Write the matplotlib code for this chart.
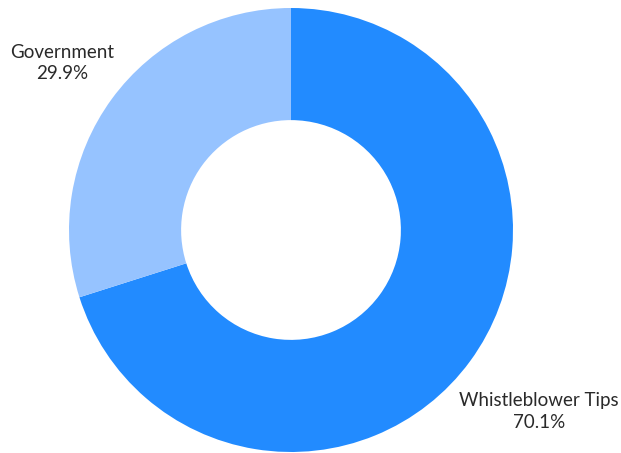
import numpy as np
import matplotlib
matplotlib.use("Agg")
import matplotlib.pyplot as plt

categories = ["Whistleblower Tips", "Government"]
values = [70.1, 29.9]
colors = ["#228BFF", "#96C3FF"]

plt.rcParams['font.family'] = ['Lato', 'DejaVu Sans']

fig = plt.figure(figsize=(6.21, 4.53), dpi=100)
ax = fig.add_axes([0, 0, 1, 1])
cx, cy, r = 291, 453 - 230, 222
wedges, _ = ax.pie(values, colors=colors, startangle=90, counterclock=False,
                   center=(cx, cy), radius=r,
                   wedgeprops=dict(width=r * 0.505, linewidth=0))
ax.set_xlim(0, 621)
ax.set_ylim(0, 453)
ax.set_aspect('equal')
ax.axis('off')

dists = [1.385, 1.275]
for w, cat, v, d in zip(wedges, categories, values, dists):
    ang = np.deg2rad((w.theta1 + w.theta2) / 2)
    x = cx + d * r * np.cos(ang)
    y = cy + d * r * np.sin(ang)
    ax.text(x, y, f"{cat}\n{v:.1f}%", ha='center', va='center', fontsize=13.5,
            color='#2a2a2a', linespacing=1.3)

fig.savefig("out.png", dpi=100)
